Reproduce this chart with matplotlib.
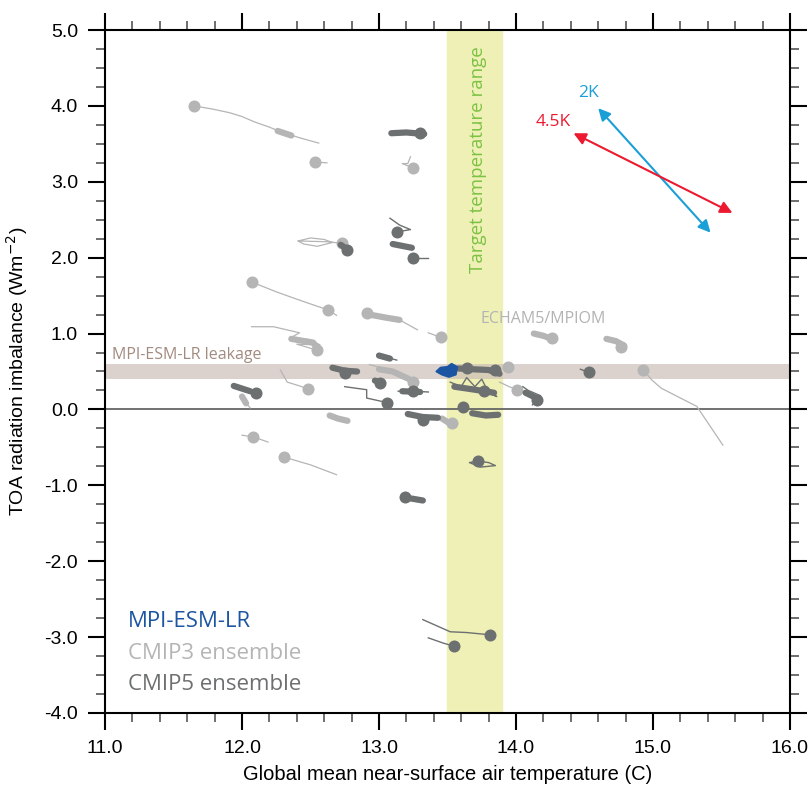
import matplotlib.pyplot as plt
from matplotlib.patches import Polygon
from matplotlib.ticker import MultipleLocator

# colours of the three groups
c_mpi = '#1c56a3'
c_cmip3 = '#b5b5b5'
c_cmip5 = '#6d7070'

# CMIP3 trajectories: thin trail, thick blob part, end dot
cmip3_trails = [
    [(11.65, 4.00), (11.78, 3.96), (11.91, 3.91), (12.00, 3.86), (12.09, 3.79), (12.20, 3.72),
     (12.28, 3.66), (12.42, 3.58), (12.56, 3.51)],
    [(12.53, 3.26), (12.62, 3.25)],
    [(13.23, 3.33), (13.21, 3.24), (13.17, 3.24), (13.25, 3.18)],
    [(12.41, 2.22), (12.50, 2.26), (12.60, 2.24), (12.66, 2.20), (12.55, 2.15), (12.45, 2.18),
     (12.41, 2.22), (12.62, 2.21), (12.73, 2.19)],
    [(12.07, 1.68), (12.25, 1.55), (12.42, 1.44), (12.63, 1.31), (12.69, 1.24)],
    [(12.91, 1.27), (13.01, 1.22), (13.15, 1.18), (13.28, 1.05)],
    [(13.36, 1.01), (13.45, 0.95)],
    [(12.07, 1.09), (12.23, 1.09), (12.42, 1.01), (12.35, 0.94), (12.50, 0.92), (12.57, 0.85),
     (12.40, 0.86), (12.55, 0.78)],
    [(12.93, 0.59), (13.08, 0.52), (13.19, 0.45), (13.25, 0.36)],
    [(12.28, 0.52), (12.33, 0.36), (12.42, 0.31), (12.48, 0.27)],
    [(11.99, 0.19), (12.02, 0.10), (12.06, 0.02)],
    [(12.00, -0.34), (12.08, -0.36), (12.19, -0.43)],
    [(12.31, -0.63), (12.50, -0.73), (12.69, -0.86)],
    [(13.88, 0.36), (13.95, 0.30), (14.01, 0.26)],
    [(14.93, 0.52), (14.99, 0.39), (15.06, 0.28), (15.32, 0.04), (15.51, -0.47)],
]
cmip3_blobs = [
    [(12.26, 3.67), (12.36, 3.61)],
    [(12.93, 1.25), (13.05, 1.21), (13.15, 1.18)],
    [(12.36, 0.93), (12.52, 0.88), (12.55, 0.80)],
    [(13.00, 0.53), (13.10, 0.50), (13.22, 0.40)],
    [(12.00, 0.17), (12.03, 0.08)],
    [(12.64, -0.08), (12.70, -0.12), (12.77, -0.15)],
    [(14.13, 1.00), (14.20, 0.97), (14.26, 0.93)],
    [(14.66, 0.93), (14.73, 0.90), (14.79, 0.84)],
    [(13.46, -0.12), (13.53, -0.20)],
]
cmip3_dots_x = [11.65, 12.53, 13.25, 12.73, 12.07, 12.63, 12.91, 13.45, 12.55, 13.25, 12.48,
                12.08, 12.31, 13.94, 14.01, 14.26, 14.77, 14.93, 13.53]
cmip3_dots_y = [4.00, 3.26, 3.18, 2.19, 1.68, 1.31, 1.27, 0.95, 0.78, 0.36, 0.27,
                -0.36, -0.63, 0.56, 0.26, 0.94, 0.82, 0.52, -0.18]

# CMIP5 trajectories
cmip5_trails = [
    [(13.08, 2.52), (13.15, 2.43), (13.23, 2.37), (13.13, 2.34)],
    [(13.25, 2.00), (13.36, 2.00)],
    [(12.99, 0.72), (13.13, 0.65)],
    [(11.93, 0.32), (12.02, 0.26), (12.10, 0.22)],
    [(12.75, 0.30), (12.91, 0.26), (12.91, 0.15), (13.06, 0.09)],
    [(13.14, 0.24), (13.25, 0.24), (13.36, 0.23)],
    [(13.52, 0.36), (13.60, 0.30), (13.64, 0.42), (13.70, 0.30), (13.75, 0.40), (13.80, 0.22),
     (13.86, 0.17), (13.77, 0.24)],
    [(14.05, 0.30), (14.09, 0.25), (14.18, 0.18), (14.15, 0.13), (14.12, 0.06)],
    [(14.47, 0.53), (14.53, 0.49)],
    [(13.72, -0.68), (13.80, -0.70), (13.85, -0.74), (13.74, -0.76), (13.66, -0.70), (13.72, -0.68)],
    [(13.32, -2.77), (13.52, -2.93), (13.64, -2.94), (13.81, -2.97)],
    [(13.36, -3.01), (13.47, -3.08), (13.55, -3.12)],
]
cmip5_blobs = [
    [(13.09, 3.64), (13.20, 3.65), (13.33, 3.63)],
    [(13.10, 2.18), (13.24, 2.13)],
    [(12.72, 2.17), (12.77, 2.11)],
    [(13.00, 0.71), (13.08, 0.67)],
    [(12.66, 0.55), (12.75, 0.51), (12.84, 0.50)],
    [(11.94, 0.31), (12.06, 0.24)],
    [(12.97, 0.38), (13.03, 0.35)],
    [(13.17, 0.24), (13.30, 0.23)],
    [(13.21, -0.06), (13.32, -0.10), (13.43, -0.11)],
    [(13.58, 0.54), (13.68, 0.53), (13.80, 0.52), (13.88, 0.47)],
    [(13.55, 0.30), (13.70, 0.26), (13.84, 0.22)],
    [(14.07, 0.22), (14.16, 0.14)],
    [(13.68, -0.05), (13.78, -0.08), (13.87, -0.07)],
    [(13.19, -1.16), (13.32, -1.20)],
]
cmip5_dots_x = [13.30, 13.13, 13.25, 12.77, 12.75, 12.10, 13.01, 13.06, 13.25, 13.32, 13.19,
                13.77, 14.15, 14.53, 13.61, 13.72, 13.81, 13.55, 13.64, 13.85]
cmip5_dots_y = [3.64, 2.34, 2.00, 2.10, 0.48, 0.22, 0.35, 0.09, 0.24, -0.14, -1.15,
                0.24, 0.13, 0.49, 0.03, -0.68, -2.97, -3.12, 0.55, 0.52]

# MPI-ESM-LR blob
mpi_x = [13.42, 13.45, 13.50, 13.53, 13.57, 13.56, 13.51, 13.46]
mpi_y = [0.50, 0.55, 0.56, 0.60, 0.56, 0.46, 0.43, 0.46]

# climate sensitivity arrows (start, end)
arrow_2k = [(14.60, 3.97), (15.42, 2.33)]
arrow_45k = [(14.42, 3.64), (15.58, 2.59)]

target_range = (13.5, 13.9)
leakage = (0.4, 0.6)

fig = plt.figure(figsize=(8.09, 7.90), dpi=100)
ax = fig.add_axes([0.1298, 0.0975, 0.8467, 0.8645])
ax.set_xlim(11, 16)
ax.set_ylim(-4, 5)

ax.axvspan(*target_range, color='#eff0b6', zorder=0)
ax.axhspan(*leakage, color='#cdbfb8', alpha=0.7, lw=0, zorder=1)
ax.axhline(0, color='#666666', lw=1.3, zorder=1)

for tr in cmip3_trails:
    ax.plot(*zip(*tr), color=c_cmip3, lw=0.9, zorder=2)
for bl in cmip3_blobs:
    ax.plot(*zip(*bl), color=c_cmip3, lw=4.5, solid_capstyle='round', zorder=2)
ax.scatter(cmip3_dots_x, cmip3_dots_y, s=75, color=c_cmip3, lw=0, zorder=3)

for tr in cmip5_trails:
    ax.plot(*zip(*tr), color=c_cmip5, lw=1.0, zorder=4)
for bl in cmip5_blobs:
    ax.plot(*zip(*bl), color=c_cmip5, lw=4.5, solid_capstyle='round', zorder=4)
ax.scatter(cmip5_dots_x, cmip5_dots_y, s=75, color=c_cmip5, lw=0, zorder=5)

ax.add_patch(Polygon(list(zip(mpi_x, mpi_y)), closed=True, facecolor=c_mpi, edgecolor=c_mpi,
                     lw=1.5, joinstyle='round', zorder=6))

for (a, b), col in [(arrow_2k, '#1a9fd6'), (arrow_45k, '#ec1a30')]:
    ax.annotate('', xy=b, xytext=a,
                arrowprops=dict(arrowstyle='<|-|>', color=col, lw=1.5,
                                mutation_scale=18, shrinkA=0, shrinkB=0))

tf = 'Open Sans'
ax.text(14.53, 4.17, '2K', color='#1a9fd6', fontsize=12.5, family=tf, ha='center', va='center')
ax.text(14.27, 3.79, '4.5K', color='#ec1a30', fontsize=12.5, family=tf, ha='center', va='center')
ax.text(13.72, 3.29, 'Target temperature range', color='#7cc243', fontsize=13.5, family=tf,
        rotation=90, ha='center', va='center')
ax.text(14.2, 1.19, 'ECHAM5/MPIOM', color='#b3b3b3', fontsize=11.5, family=tf, ha='center', va='center')
ax.text(11.05, 0.72, 'MPI-ESM-LR leakage', color='#a28b80', fontsize=11.5, family=tf, ha='left', va='center')
ax.text(11.17, -2.79, 'MPI-ESM-LR', color=c_mpi, fontsize=16, family=tf, ha='left', va='center')
ax.text(11.17, -3.21, 'CMIP3 ensemble', color=c_cmip3, fontsize=16, family=tf, ha='left', va='center')
ax.text(11.17, -3.62, 'CMIP5 ensemble', color=c_cmip5, fontsize=16, family=tf, ha='left', va='center')

lf = 'Liberation Sans'
ax.set_xlabel('Global mean near-surface air temperature (C)', fontsize=14.5, family=lf, labelpad=6)
ax.set_ylabel('TOA radiation imbalance (Wm$^{-2}$)', fontsize=14, family=lf, labelpad=10)
ax.xaxis.set_major_locator(MultipleLocator(1))
ax.xaxis.set_minor_locator(MultipleLocator(0.2))
ax.yaxis.set_major_locator(MultipleLocator(1))
ax.yaxis.set_minor_locator(MultipleLocator(0.25))
ax.set_xticks(ax.get_xticks())
ax.set_xticklabels(['%.1f' % v for v in ax.get_xticks()], family=lf, fontsize=14)
ax.set_yticks(ax.get_yticks())
ax.set_yticklabels(['%.1f' % v for v in ax.get_yticks()], family=lf, fontsize=14)
ax.set_xlim(11, 16)
ax.set_ylim(-4, 5)
ax.tick_params(which='major', direction='out', length=12.5, width=1.5, pad=7)
ax.tick_params(which='minor', direction='out', length=6.5, width=1.2, color='#555555')
ax.tick_params(top=True, right=True, which='both')
for s in ax.spines.values():
    s.set_linewidth(1.5)

fig.savefig('out.png', dpi=100)
